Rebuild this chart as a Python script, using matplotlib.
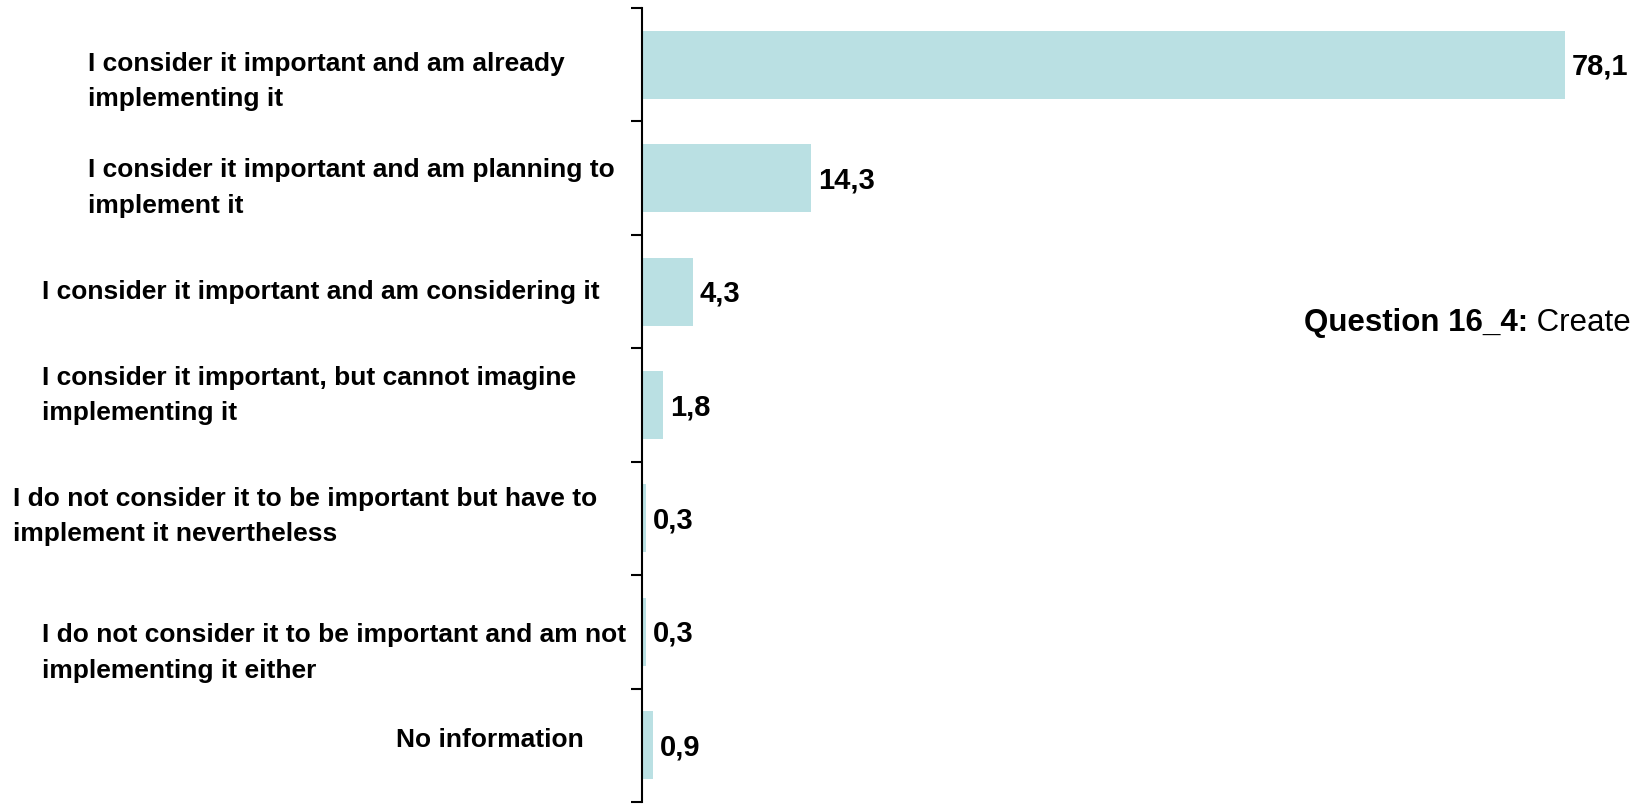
import matplotlib.pyplot as plt
import matplotlib.transforms as mtransforms
import numpy as np

plt.rcParams['font.family'] = ['Liberation Sans', 'DejaVu Sans']

# data
categories = [
    "I consider it important and am already\nimplementing it",
    "I consider it important and am planning to\nimplement it",
    "I consider it important and am considering it",
    "I consider it important, but cannot imagine\nimplementing it",
    "I do not consider it to be important but have to\nimplement it nevertheless",
    "I do not consider it to be important and am not\nimplementing it either",
    "No information",
]
values = [78.1, 14.3, 4.3, 1.8, 0.3, 0.3, 0.9]
value_labels = ["78,1", "14,3", "4,3", "1,8", "0,3", "0,3", "0,9"]

# layout of the category text blocks (figure px from left, vertical px shift)
label_x_px = [88, 88, 42, 42, 13, 42, 396]
label_dy_px = [17, 10, 0.5, -9.5, -2, 21, -5]

W, H = 1643, 807
fig = plt.figure(figsize=(W / 100, H / 100), dpi=100)
ax = fig.add_axes([642 / W, 5 / H, 1 - 642 / W, 794 / H])

y = np.arange(len(values))
ax.barh(y, values, height=0.6, color='#BAE0E3')

ax.set_ylim(len(values) - 0.5, -0.5)
ax.set_xlim(0, 84.7)

for side in ['top', 'right', 'bottom']:
    ax.spines[side].set_visible(False)
ax.spines['left'].set_linewidth(1.5)
ax.set_xticks([])
ax.set_yticks(np.arange(len(values) + 1) - 0.5)
ax.set_yticklabels([])
ax.tick_params(axis='y', length=8, width=1.5, direction='out')

# value labels
for yi, v, lab in zip(y, values, value_labels):
    ax.annotate(lab, xy=(v, yi), xytext=(5, -1.5), textcoords='offset points',
                va='center', ha='left', fontsize=21, fontweight='bold')

# category labels
trans = mtransforms.blended_transform_factory(fig.transFigure, ax.transData)
for yi, lab, xp, dy in zip(y, categories, label_x_px, label_dy_px):
    ax.annotate(lab, xy=(xp / W, yi), xycoords=trans,
                xytext=(0, -dy * 0.72), textcoords='offset points',
                va='center', ha='left', fontsize=19, fontweight='bold',
                linespacing=1.6, annotation_clip=False)

# question text on the right
t1 = fig.text(1304 / W, 1 - 331 / H, "Question 16_4:", fontsize=22.5,
              fontweight='bold', va='baseline', ha='left')
fig.canvas.draw()
ax.annotate(" Create", xy=(1, 0), xycoords=t1, va='bottom', ha='left',
            fontsize=22.5, annotation_clip=False)

fig.savefig('out.png', dpi=100)
